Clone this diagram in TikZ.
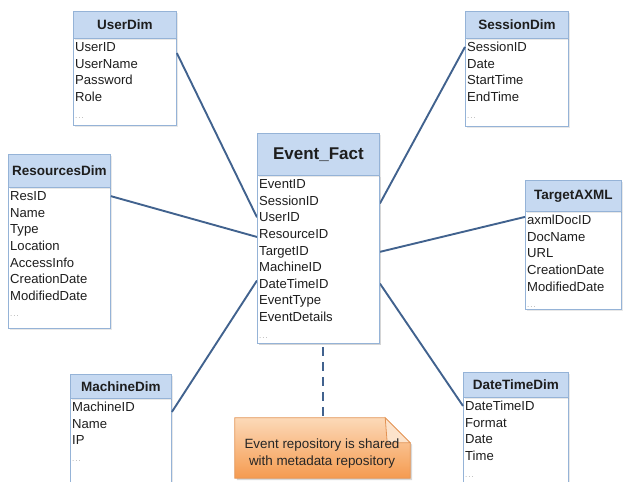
\documentclass[tikz,border=0pt]{standalone}
\usepackage{fontspec}
\setmainfont{Liberation Sans}
\usetikzlibrary{shadows,calc}
\definecolor{hdr}{HTML}{C6D9F1}
\definecolor{bord}{HTML}{95B3D7}
\definecolor{linkc}{HTML}{41628E}
\definecolor{txt}{HTML}{1E1E1E}
\definecolor{notetop}{HTML}{FCD9B8}
\definecolor{notebot}{HTML}{F59B50}
\definecolor{noteedge}{HTML}{E39353}
\definecolor{foldc}{HTML}{FCE3CB}
\tikzset{
  hdrbox/.style={draw=bord, line width=0.9pt, fill=hdr, inner sep=0pt, anchor=north west,
    font=\fontsize{13.5}{16}\selectfont\bfseries, text=txt,
    drop shadow={opacity=0.18, shadow xshift=1.5pt, shadow yshift=-1.5pt}},
  bodybox/.style={draw=bord, line width=0.9pt, fill=white, inner sep=0pt, anchor=north west,
    drop shadow={opacity=0.18, shadow xshift=1.5pt, shadow yshift=-1.5pt}},
  rowtxt/.style={anchor=base west, inner sep=0pt, font=\fontsize{13.1}{15}\selectfont, text=txt},
  link/.style={draw=linkc, line width=1.9pt},
  dashlink/.style={draw=linkc, line width=2pt, dash pattern=on 9pt off 6pt},
}
\newcommand{\dotsrow}{{\color{gray!70}\fontsize{8}{8}\selectfont .\kern1pt.\kern1pt.}}
% #1 name, #2 x1, #3 y1, #4 x2, #5 yh, #6 y2, #7 title, #8 rows
\newcommand{\mkbox}[8]{%
  \pgfmathsetmacro\bw{#4-#2}\pgfmathsetmacro\hh{#5-#3}\pgfmathsetmacro\bh{#6-#5}%
  \node[bodybox, minimum width=\bw pt, minimum height=\bh pt] (#1b) at (#2,#5) {};
  \node[hdrbox, minimum width=\bw pt, minimum height=\hh pt] (#1h) at (#2,#3) {#7};
  \foreach \rowtext [count=\ri] in {#8} {%
    \node[rowtxt] (#1\ri) at (#2+2, #5+9+4.6+\ri*16.6-16.6) {\rowtext};
  }%
}
\begin{document}
\begin{tikzpicture}[x=1pt, y=-1pt]
\useasboundingbox (0,0) rectangle (625,482);

\mkbox{ud}{73}{11}{176}{38}{125}{UserDim}{UserID,UserName,Password,Role,\dotsrow}
\mkbox{sd}{465}{11}{568}{38}{126}{SessionDim}{SessionID,Date,StartTime,EndTime,\dotsrow}
\mkbox{rd}{8}{154}{110}{187}{328}{ResourcesDim}{ResID,Name,Type,Location,AccessInfo,CreationDate,ModifiedDate,\dotsrow}
\mkbox{ta}{525}{180}{621}{211}{309}{TargetAXML}{axmlDocID,DocName,URL,CreationDate,ModifiedDate,\dotsrow}
\mkbox{md}{70}{374}{171}{398}{490}{MachineDim}{MachineID,Name,IP,\dotsrow}
\mkbox{dt}{463}{372}{568}{397}{490}{DateTimeDim}{DateTimeID,Format,Date,Time,\dotsrow}

% Event fact (placement helper for the links)
\pgfmathsetmacro\efw{379-257}
\node[bodybox, minimum width=\efw pt, minimum height=168pt] (efb) at (257,175) {};
\foreach \rowtext [count=\ri] in {EventID,SessionID,UserID,ResourceID,TargetID,MachineID,DateTimeID,EventType,EventDetails,\dotsrow} {%
  \node[rowtxt] (ef\ri) at (259, 175+9+4.6+\ri*16.6-16.6) {\rowtext};
}

% links
\draw[link] ([yshift=-6pt]udb.east |- ud1.center) -- (efb.west |- ef3.center);
\draw[link] (sdb.west |- sd1.center) -- ([yshift=-3pt]efb.east |- ef2.center);
\draw[link] (rdb.east |- rd1.center) -- ([yshift=-3pt]efb.west |- ef4.center);
\draw[link] ([yshift=3pt]tab.west |- ta1.center) -- (efb.east |- ef5.center);
\draw[link] ([yshift=-5pt]mdb.east |- md1.center) -- ([yshift=3pt]efb.west |- ef7.center);
\draw[link] (dtb.west |- dt1.center) -- (efb.east |- ef7.center);

% event fact drawn on top of the links
\node[bodybox, minimum width=\efw pt, minimum height=168pt] (efb2) at (257,175) {};
\node[hdrbox, minimum width=\efw pt, minimum height=42pt, font=\fontsize{17}{20}\selectfont\bfseries] (efh) at (257,133) {Event\_Fact};
\foreach \rowtext [count=\ri] in {EventID,SessionID,UserID,ResourceID,TargetID,MachineID,DateTimeID,EventType,EventDetails,\dotsrow} {%
  \node[rowtxt] (eft\ri) at (259, 175+9+4.6+\ri*16.6-16.6) {\rowtext};
}

% note
\node[minimum width=175pt, minimum height=60pt, inner sep=0pt] (note) at (322.5,448) {};
\fill[black, opacity=0.15] ([shift={(2pt,-2pt)}]note.north west) -- ([shift={(-23pt,-2pt)}]note.north east)
  -- ([shift={(2pt,-27pt)}]note.north east) -- ([shift={(2pt,-2pt)}]note.south east) -- ([shift={(2pt,-2pt)}]note.south west) -- cycle;
\draw[noteedge, line width=0.8pt, top color=notetop, bottom color=notebot]
  (note.north west) -- ([xshift=-25pt]note.north east) -- ([yshift=-25pt]note.north east)
  -- (note.south east) -- (note.south west) -- cycle;
\draw[noteedge, line width=0.8pt, fill=foldc]
  ([xshift=-25pt]note.north east) -- ([xshift=-23pt,yshift=-25pt]note.north east) -- ([yshift=-25pt]note.north east) -- cycle;
\node[align=center, inner sep=0pt, font=\fontsize{13.4}{17}\selectfont, text=black!85] (notetext) at (322,453.5)
  {Event repository is shared\\with metadata repository};
\draw[dashlink] ([yshift=-3pt]efb2.south -| note.north) -- (note.north);
\end{tikzpicture}
\end{document}
